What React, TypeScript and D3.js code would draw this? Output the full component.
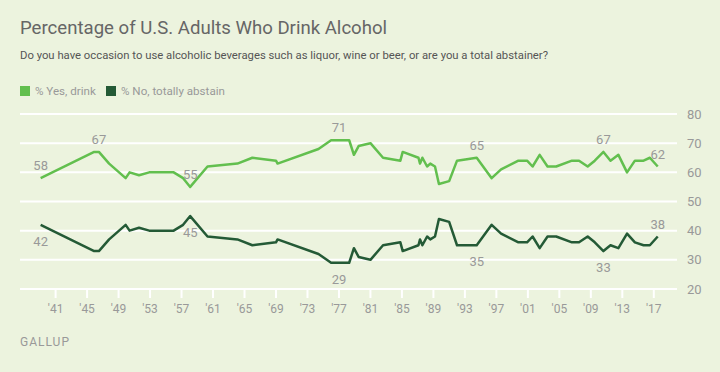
import React from 'react'
import * as d3 from 'd3'

// survey dates (fractional years) and percentages
const years = [1939.1, 1945.9, 1946.5, 1947.8, 1949.9, 1950.4, 1951.6, 1952.9, 1956.0, 1957.2, 1958.1, 1960.3, 1964.1, 1966.0, 1969.0, 1969.2, 1974.4, 1976.0, 1977.0, 1978.3, 1978.9, 1979.5, 1981.0, 1982.6, 1984.8, 1985.1, 1987.1, 1987.3, 1987.6, 1988.2, 1988.6, 1989.2, 1989.7, 1991.0, 1992.0, 1994.5, 1996.4, 1997.6, 1999.8, 2000.9, 2001.6, 2002.5, 2003.5, 2004.6, 2006.6, 2007.5, 2008.6, 2009.5, 2010.6, 2011.5, 2012.5, 2013.6, 2014.6, 2015.7, 2016.5, 2017.5]
const yesDrink = [58, 67, 67, 63, 58, 60, 59, 60, 60, 58, 55, 62, 63, 65, 64, 63, 68, 71, 71, 71, 66, 69, 70, 65, 64, 67, 65, 63, 65, 62, 63, 62, 56, 57, 64, 65, 58, 61, 64, 64, 62, 66, 62, 62, 64, 64, 62, 64, 67, 64, 66, 60, 64, 64, 65, 62]
const noAbstain = [42, 33, 33, 37, 42, 40, 41, 40, 40, 42, 45, 38, 37, 35, 36, 37, 32, 29, 29, 29, 34, 31, 30, 35, 36, 33, 35, 37, 35, 38, 37, 38, 44, 43, 35, 35, 42, 39, 36, 36, 38, 34, 38, 38, 36, 36, 38, 36, 33, 35, 34, 39, 36, 35, 35, 38]

const xTicks = [1941, 1945, 1949, 1953, 1957, 1961, 1965, 1969, 1973, 1977, 1981, 1985, 1989, 1993, 1997, 2001, 2005, 2009, 2013, 2017]
const yTicks = [20, 30, 40, 50, 60, 70, 80]

// indexes of labelled points
const yesLabels = [0, 2, 10, 18, 35, 48, 55]
const noLabels = [0, 10, 18, 35, 48]
const noLabelsAbove = [55]

const GREEN = '#62bf4e'
const DARK = '#245a36'
const FONT = 'Roboto, "Noto Sans", sans-serif'

export default function App() {
  const width = 720
  const height = 372
  const x = d3.scaleLinear().domain([1941, 2017]).range([55.6, 653.8])
  const y = d3.scaleLinear().domain([20, 80]).range([289, 114])

  const line = d3.line<number>()
    .x((d, i) => x(years[i]))
    .y(d => y(d))

  return (
    <svg width={width} height={height} style={{ position: 'absolute', left: 0, top: 0 }} fontFamily={FONT}>
      <rect width={width} height={height} fill="#ecf3de" />
      <text x={20} y={34} fontSize={18.6} fill="#666">Percentage of U.S. Adults Who Drink Alcohol</text>
      <text x={20} y={58.5} fontSize={11.3} fill="#555">Do you have occasion to use alcoholic beverages such as liquor, wine or beer, or are you a total abstainer?</text>

      <rect x={20} y={86} width={10} height={10} fill={GREEN} />
      <text x={35} y={95} fontSize={11.6} fill="#999">% Yes, drink</text>
      <rect x={106} y={86} width={10} height={10} fill={DARK} />
      <text x={121} y={95} fontSize={11.6} fill="#999">% No, totally abstain</text>

      {yTicks.map(t => (
        <g key={t}>
          <line x1={20} x2={677} y1={y(t)} y2={y(t)} stroke="#fff" strokeWidth={2} />
          <text x={687} y={y(t) + 4.5} fontSize={13} fill="#999">{t}</text>
        </g>
      ))}
      {xTicks.map(t => (
        <g key={t}>
          <line x1={x(t)} x2={x(t)} y1={y(20)} y2={y(20) + 9} stroke="#fff" strokeWidth={2} />
          <text x={x(t)} y={313} fontSize={12} fill="#999" textAnchor="middle">{"'" + String(t).slice(2)}</text>
        </g>
      ))}

      <path d={line(yesDrink) || ''} fill="none" stroke={GREEN} strokeWidth={2.5} strokeLinejoin="round" />
      <path d={line(noAbstain) || ''} fill="none" stroke={DARK} strokeWidth={2.5} strokeLinejoin="round" />

      {yesLabels.map(i => (
        <text key={'y' + i} x={x(years[i])} y={y(yesDrink[i]) - 8} fontSize={13} fill="#999" textAnchor="middle">{yesDrink[i]}</text>
      ))}
      {noLabels.map(i => (
        <text key={'n' + i} x={x(years[i])} y={y(noAbstain[i]) + 21} fontSize={13} fill="#999" textAnchor="middle">{noAbstain[i]}</text>
      ))}
      {noLabelsAbove.map(i => (
        <text key={'na' + i} x={x(years[i])} y={y(noAbstain[i]) - 8} fontSize={13} fill="#999" textAnchor="middle">{noAbstain[i]}</text>
      ))}

      <text x={20} y={346} fontSize={12} fill="#999" letterSpacing={1}>GALLUP</text>
    </svg>
  )
}
